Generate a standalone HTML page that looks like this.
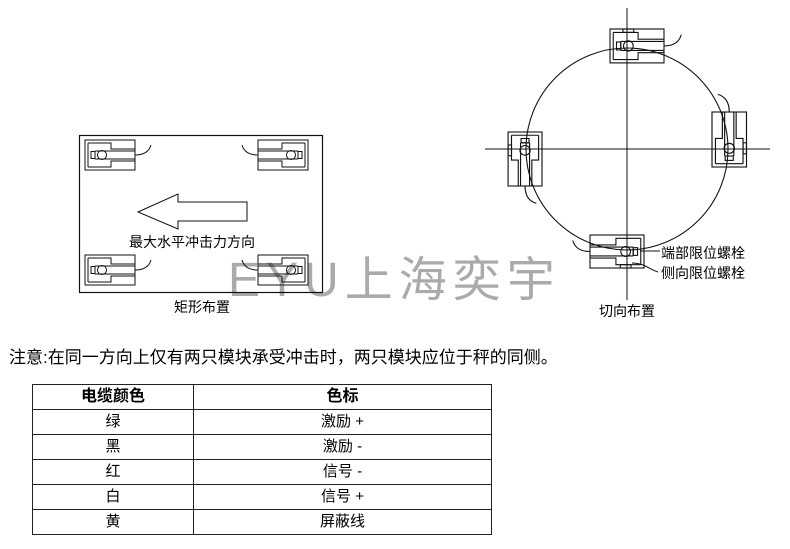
<!DOCTYPE html>
<html><head><meta charset="utf-8"><style>
html,body{margin:0;padding:0;background:#fff;}
body{width:790px;height:549px;position:relative;overflow:hidden;font-family:"Liberation Sans","Noto Sans CJK SC",sans-serif;}
svg{position:absolute;left:0;top:0;}
.t{position:absolute;font-size:14px;color:#000;white-space:nowrap;}
table{position:absolute;left:32px;top:384px;border-collapse:collapse;}
td{border:1.3px solid #222;text-align:center;font-size:15px;height:24px;padding:0;line-height:22px;color:#000;}
</style></head><body>
<svg width="790" height="549" viewBox="0 0 790 549">
<defs>
<g id="s" fill="none" stroke="#111" stroke-width="1">
<rect x="0" y="0" width="50" height="30"/>
<path d="M3,3 H26 V9 H50 M3,27 H26 V21 H50 M3,3 V27 M10,11 H50 M10,19 H50 M10,11 V19"/>
<rect x="6" y="11.5" width="4" height="7"/>
<circle cx="17" cy="15" r="4.5"/>
<path d="M50,15 C58,15 64,12 66,5"/>
</g>
<g id="b" fill="none" stroke="#111" stroke-width="1"><rect x="12" y="27" width="10" height="3"/></g>
</defs>
<text x="228" y="296" font-family="Liberation Sans, Noto Sans CJK SC, sans-serif" font-size="48" fill="#aaa" letter-spacing="6">EYU上海奕宇</text>
<rect x="79.5" y="135.5" width="243" height="157" fill="none" stroke="#111" stroke-width="1.2"/>
<use href="#s" transform="translate(85,140)"/>
<use href="#s" transform="translate(308,140) scale(-1,1)"/>
<use href="#s" transform="translate(85,255)"/>
<use href="#s" transform="translate(308,255) scale(-1,1)"/>
<path d="M138,212 L178,194 L178,202 L247,202 L247,221 L178,221 L178,229 Z" fill="none" stroke="#111" stroke-width="1"/>
<g transform="translate(610,29) scale(1.08,1.13)"><rect x="0" y="0" width="50" height="30" fill="#fff"/><use href="#s"/><use href="#b" transform="translate(0,30) scale(1,-1)"/></g>
<g transform="translate(644,235) scale(-1.08,1.1)"><rect x="0" y="0" width="50" height="30" fill="#fff"/><use href="#s"/><use href="#b"/></g>
<g transform="translate(712,167) rotate(-90) scale(1.1,1.15)"><rect x="0" y="0" width="50" height="30" fill="#fff"/><use href="#s"/><use href="#b"/></g>
<g transform="translate(542,132) rotate(90) scale(1.08,1.13)"><rect x="0" y="0" width="50" height="30" fill="#fff"/><use href="#s"/><use href="#b"/></g>
<line x1="627" y1="8" x2="627" y2="300" stroke="#111" stroke-width="1"/>
<line x1="485" y1="149" x2="770" y2="149" stroke="#111" stroke-width="1"/>
<circle cx="627" cy="149" r="101" fill="none" stroke="#111" stroke-width="1.1"/>
<path d="M640,251 H660 M632,263 C645,263 650,270 658,272" fill="none" stroke="#111" stroke-width="1"/>
</svg>
<div class="t" style="left:129px;top:232px;">最大水平冲击力方向</div>
<div class="t" style="left:174px;top:297px;">矩形布置</div>
<div class="t" style="left:599px;top:301px;">切向布置</div>
<div class="t" style="left:661px;top:243px;">端部限位螺栓</div>
<div class="t" style="left:661px;top:263px;">侧向限位螺栓</div>
<div class="t" style="left:9px;top:343px;font-size:17px;">注意:在同一方向上仅有两只模块承受冲击时，两只模块应位于秤的同侧。</div>
<table>
<tr><td style="width:160px;font-weight:bold;font-size:16px;">电缆颜色</td><td style="width:297px;font-weight:bold;font-size:16px;">色标</td></tr>
<tr><td>绿</td><td>激励 +</td></tr>
<tr><td>黑</td><td>激励 -</td></tr>
<tr><td>红</td><td>信号 -</td></tr>
<tr><td>白</td><td>信号 +</td></tr>
<tr><td>黄</td><td>屏蔽线</td></tr>
</table>
</body></html>
